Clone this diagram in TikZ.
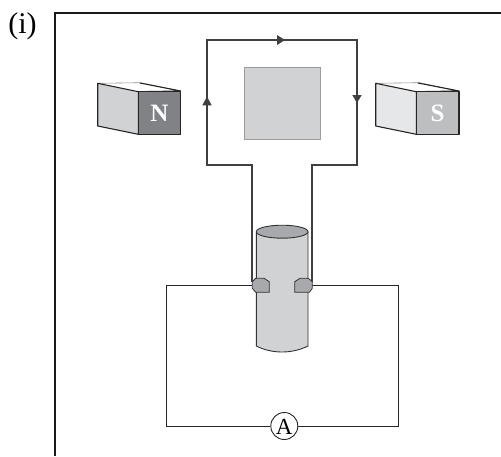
\documentclass[tikz,border=0pt]{standalone}
\usepackage{fontspec}
\setmainfont{Liberation Serif}
\usetikzlibrary{arrows.meta}
\definecolor{coilc}{HTML}{404041}
\definecolor{bodyc}{HTML}{D1D2D4}
\definecolor{squareline}{HTML}{9A9B9D}
\definecolor{capc}{HTML}{A7A9AC}
\definecolor{nface}{HTML}{808285}
\definecolor{sface}{HTML}{BCBEC0}
\definecolor{sside}{HTML}{E6E7E8}
\tikzset{
  x=1pt,y=-1pt,
  frameline/.style={draw=black!90,line width=1.1pt},
  coil/.style={draw=coilc,line width=2.5pt,line join=miter},
  wire/.style={draw=black!85,line width=.9pt},
  magnet/.style={draw=black!85,line width=1.1pt,line join=round},
  magnet back/.style={draw=black!45,line width=.6pt,fill=white},
  cyl/.style={draw=black!80,line width=.9pt,fill=bodyc},
  clip part/.style={draw=black!80,line width=.8pt,fill=capc,line join=round},
  tip/.style={fill=coilc,draw=none},
  pole/.style={text=white,font=\fontsize{25}{25}\selectfont\bfseries,inner sep=0pt},
  meter/.style={circle,draw=black!85,line width=.9pt,fill=white,minimum size=27pt,inner sep=0pt}
}
\begin{document}
\begin{tikzpicture}
\useasboundingbox (0,0) rectangle (501,456);
\node[font=\fontsize{30}{30}\selectfont,inner sep=0pt] (lab) at (22.5,26) {(i)};
\coordinate (ftr) at (501,13);
\coordinate (ftl) at (55,13);
\coordinate (fbl) at (55,456);
\draw[frameline] (ftr) -- (ftl) -- (fbl);

% coil
\coordinate (cA) at (252,282);
\coordinate (cB) at (312,282);
\draw[coil] (cA) -- (252,165) -- (207,165) -- (207,40) -- (357,40) -- (357,165) -- (312,165) -- (cB);
\fill[tip] (285,40) -- (277,35) -- (277,45) -- cycle;
\fill[tip] (207,96.7) -- (202.3,105.3) -- (211.7,105.3) -- cycle;
\fill[tip] (357,103) -- (352.3,95) -- (361.7,95) -- cycle;

% pole square
\node[draw=squareline,line width=1pt,fill=bodyc,minimum width=76pt,minimum height=72pt,inner sep=0pt] (sq) at (282,103) {};

% N magnet
\draw[magnet back] (97.7,83.3) -- (140,82.7) -- (180.7,91);
\draw[magnet,fill=bodyc] (97.7,83.3) -- (138.3,91.7) -- (138.3,134.3) -- (97.7,126) -- cycle;
\draw[magnet] (140,83) -- (180.7,91) -- (138.3,91.7);
\draw[magnet,fill=nface] (138.3,91.7) rectangle (180.7,134.3);
\node[pole] (n) at (159.5,113) {N};

% S magnet
\draw[magnet back] (375.7,83.3) -- (419,82.7) -- (459,91);
\draw[magnet,fill=sside] (375.7,83.3) -- (416.3,91.7) -- (416.3,134.3) -- (375.7,126) -- cycle;
\draw[magnet] (418,83) -- (459,91) -- (416.3,91.7);
\draw[magnet,fill=sface] (416.3,91.7) rectangle (459,134.3);
\node[pole] (s) at (437.5,113) {S};

% external circuit
\node[meter] (am) at (284.3,426) {};
\node[inner sep=0pt,font=\fontsize{23}{23}\selectfont] (alab) at (284.3,427) {A};
\coordinate (wl) at (252,285);
\coordinate (wr) at (312,285);
\draw[wire] (wl) -- (166,285) -- (166,426) -- (am.west);
\draw[wire] (wr) -- (398,285) -- (398,426) -- (am.east);

% cylinder
\draw[cyl] (256.3,231.7) -- (256.3,346) .. controls (272,354) and (292,354) .. (308,346) -- (308,231.7);
\draw[cyl,fill=capc] (282.15,231.7) ellipse[x radius=25.85,y radius=6.5];

% clips
\draw[clip part] (252.3,281.7) -- (255.7,278.3) -- (264,278.3) -- (269.3,281.7) -- (269.3,292.3) -- (255.7,292.3) -- (252.3,288.3) -- cycle;
\draw[clip part] (294.7,281.7) -- (300,278.3) -- (308.3,278.3) -- (312.3,281.7) -- (312.3,288.3) -- (309.3,292.3) -- (294.7,292.3) -- cycle;
\end{tikzpicture}
\end{document}
